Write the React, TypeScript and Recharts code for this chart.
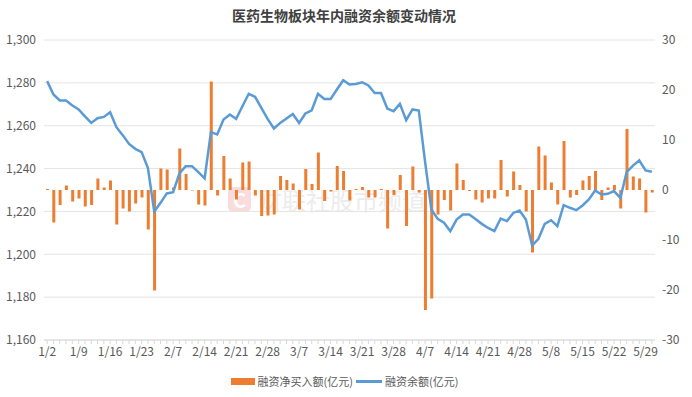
import React from "react";
import { ComposedChart, Bar, Line, XAxis, YAxis, CartesianGrid, Legend } from "recharts";

const dates = [
  "1/2", "1/3", "1/6", "1/7", "1/8", "1/9", "1/10", "1/13", "1/14", "1/15", "1/16", "1/17", "1/20", "1/21", "1/22", "1/23", "1/24", "1/27",
  "2/5", "2/6", "2/7", "2/10", "2/11", "2/12", "2/13", "2/14", "2/17", "2/18", "2/19", "2/20", "2/21", "2/24", "2/25", "2/26", "2/27", "2/28",
  "3/3", "3/4", "3/5", "3/6", "3/7", "3/10", "3/11", "3/12", "3/13", "3/14", "3/17", "3/18", "3/19", "3/20", "3/21", "3/24", "3/25", "3/26", "3/27", "3/28", "3/31",
  "4/1", "4/2", "4/3", "4/7", "4/8", "4/9", "4/10", "4/11", "4/14", "4/15", "4/16", "4/17", "4/18", "4/21", "4/22", "4/23", "4/24", "4/25", "4/28", "4/29", "4/30",
  "5/6", "5/7", "5/8", "5/9", "5/12", "5/13", "5/14", "5/15", "5/16", "5/19", "5/20", "5/21", "5/22", "5/23", "5/26", "5/27", "5/28", "5/29", "5/30",
];

// 融资净买入额(亿元)
const netBuy = [
  0.2, -6.5, -3.0, 0.9, -2.3, -1.7, -3.3, -3.0, 2.3, 0.5, 1.9, -6.9, -3.7, -4.3, -2.7, -1.5, -7.9, -20.1,
  4.3, 4.1, 0.5, 8.3, 3.2, -0.1, -2.9, -3.1, 21.7, -1.1, 6.8, 2.3, -1.9, 5.5, 5.7, -1.1, -5.2, -5.1,
  -4.9, 2.8, 2.0, 1.3, -3.9, 4.2, 1.2, 7.5, -2.2, -0.3, 4.8, 3.8, -2.1, 0.2, 0.6, -1.5, -1.5, 0.2, -7.7, -1.0, 3.0,
  -7.2, 4.7, -0.5, -24.0, -21.7, -4.9, -2.0, -4.1, 5.3, 2.0, -0.2, -1.9, -2.5, -1.7, -1.7, 6.0, -1.3, 3.7, 1.0, -4.3, -12.5,
  8.7, 6.9, 1.5, -2.9, 9.8, -1.5, -1.0, 1.9, 2.8, 3.8, -2.0, 0.5, 1.0, -3.7, 12.2, 2.7, 2.3, -4.5, -0.5,
];

// 融资余额(亿元)
const balance = [
  1280.8, 1274.6, 1271.8, 1271.8, 1269.4, 1267.6, 1264.4, 1261.3, 1263.5, 1264.1, 1266.3, 1259.3, 1255.6, 1251.5, 1249.2, 1247.7, 1240.2, 1220.0,
  1224.0, 1228.4, 1229.0, 1237.7, 1241.1, 1241.1, 1238.3, 1235.4, 1257.0, 1255.9, 1262.9, 1265.2, 1263.2, 1269.1, 1274.9, 1273.5, 1268.3, 1263.2,
  1258.7, 1261.3, 1263.4, 1265.5, 1261.3, 1265.7, 1267.2, 1274.9, 1272.5, 1272.5, 1276.9, 1281.2, 1279.2, 1279.5, 1280.3, 1278.8, 1275.3, 1275.3, 1268.0, 1266.8, 1270.2,
  1262.6, 1267.6, 1267.1, 1243.1, 1220.9, 1216.5, 1214.7, 1210.8, 1216.2, 1218.6, 1218.6, 1216.5, 1214.2, 1212.3, 1210.8, 1216.7, 1215.5, 1219.3, 1220.4, 1216.2, 1204.1,
  1207.2, 1214.2, 1215.9, 1213.1, 1222.9, 1221.7, 1220.6, 1222.8, 1225.6, 1229.8, 1227.9, 1228.2, 1229.5, 1226.3, 1238.3, 1241.4, 1243.8, 1239.1, 1238.5,
];

const leftTicks = [1160, 1180, 1200, 1220, 1240, 1260, 1280, 1300];
const rightTicks = [-30, -20, -10, 0, 10, 20, 30];

const data = dates.map((d, i) => ({ date: d, netBuy: netBuy[i], balance: balance[i] }));

const FONT = '"Noto Sans CJK SC", "Noto Sans", sans-serif';
const TEXT = "#595959";

// every category gets a tick mark, only every fifth one a label
const XTick = (props: any) => {
  const { x, y, payload, index } = props;
  if (index % 5 !== 0) return null;
  return (
    <text x={x} y={y} dy="0.71em" textAnchor="middle" fontSize={12} fill={TEXT} fontFamily={FONT}>
      {payload.value}
    </text>
  );
};

const renderLegend = (props: any) => {
  // bar swatch first, then the line
  const items = [...(props.payload || [])].sort((a: any, b: any) => (a.type === "line" ? 1 : 0) - (b.type === "line" ? 1 : 0));
  return (
    <div style={{ display: "flex", justifyContent: "center", alignItems: "center", height: 22, fontSize: 11, color: TEXT, fontFamily: FONT }}>
      {items.map((entry: any) => (
        <div key={entry.value} style={{ display: "flex", alignItems: "center", marginRight: 3 }}>
          {entry.type === "line" ? (
            <span style={{ display: "inline-block", width: 26, height: 3, background: entry.color, marginRight: 3 }} />
          ) : (
            <span style={{ display: "inline-block", width: 24, height: 7, background: entry.color, marginRight: 3 }} />
          )}
          <span>{entry.value}</span>
        </div>
      ))}
    </div>
  );
};

export default function App() {
  return (
    <div style={{ position: "absolute", left: 0, top: 0, width: 692, height: 397, background: "#fff", fontFamily: FONT }}>
      <div
        style={{
          position: "absolute", left: 0, top: 5, width: 688, textAlign: "center",
          fontSize: 14, fontWeight: "bold", color: "#404040", lineHeight: "20px",
        }}
      >
        医药生物板块年内融资余额变动情况
      </div>

      {/* watermark */}
      <div style={{ position: "absolute", left: 228, top: 187, display: "flex", alignItems: "center" }}>
        <div
          style={{
            width: 23, height: 25, borderRadius: 5, background: "#fbdcdc", color: "#fff",
            fontWeight: "bold", fontSize: 20, lineHeight: "25px", textAlign: "center",
          }}
        >
          C
        </div>
        <div style={{ marginLeft: 7, fontSize: 24, lineHeight: "24px", color: "#ececec" }}>财联社股市频道</div>
      </div>

      <div style={{ position: "absolute", left: 0, top: 0 }}>
        <ComposedChart width={692} height={397} data={data} margin={{ top: 40, right: 0, bottom: 0, left: 0 }}>
          <CartesianGrid yAxisId="left" vertical={false} stroke="#e4e4e4" />
          <XAxis
            dataKey="date"
            interval={0}
            height={30}
            tickSize={4}
            tickMargin={3}
            tickLine={{ stroke: "#d9d9d9" }}
            axisLine={{ stroke: "#d9d9d9" }}
            tick={<XTick />}
          />
          <YAxis
            yAxisId="left"
            domain={[1160, 1300]}
            ticks={leftTicks}
            width={44}
            axisLine={false}
            tickLine={false}
            tickSize={0}
            tickMargin={8}
            tick={{ fontSize: 12, fill: TEXT, fontFamily: FONT }}
            tickFormatter={(v: number) => v.toLocaleString("en-US")}
          />
          <YAxis
            yAxisId="right"
            orientation="right"
            domain={[-30, 30]}
            ticks={rightTicks}
            width={37}
            axisLine={false}
            tickLine={false}
            tickSize={0}
            tickMargin={7}
            tick={{ fontSize: 12, fill: TEXT, fontFamily: FONT }}
          />
          <Legend verticalAlign="bottom" height={27} content={renderLegend} />
          <Bar yAxisId="right" dataKey="netBuy" name="融资净买入额(亿元)" fill="#ED7D31" barSize={3} isAnimationActive={false} />
          <Line
            yAxisId="left"
            dataKey="balance"
            name="融资余额(亿元)"
            type="linear"
            stroke="#5B9BD5"
            strokeWidth={2.5}
            dot={false}
            activeDot={false}
            isAnimationActive={false}
          />
        </ComposedChart>
      </div>
    </div>
  );
}
